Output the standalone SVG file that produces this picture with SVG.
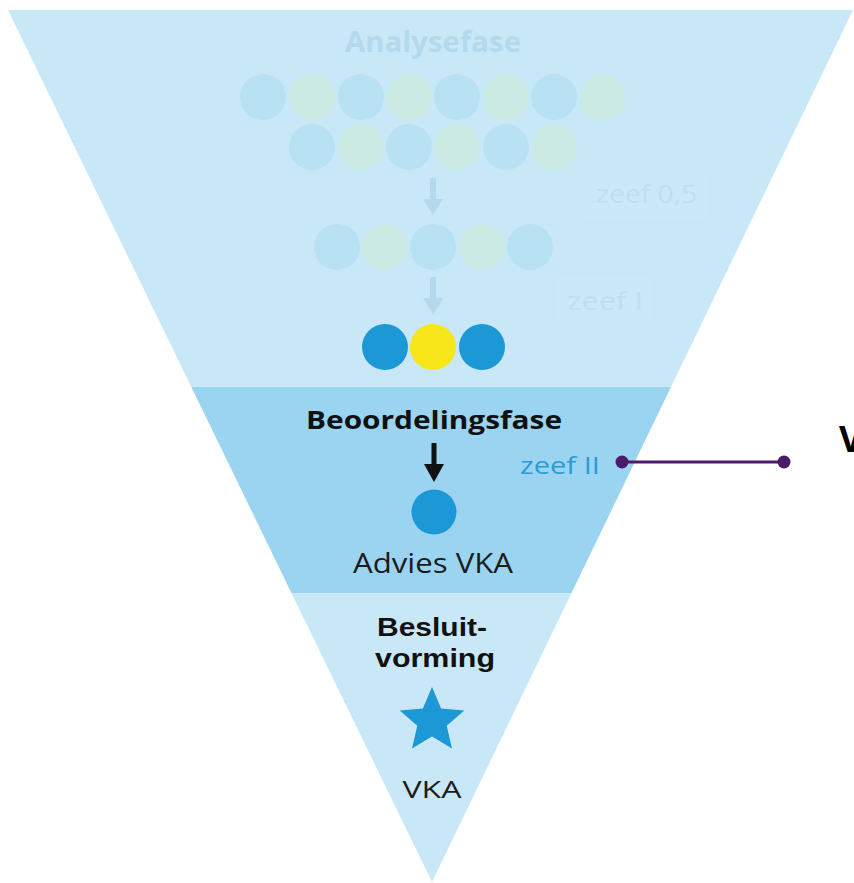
<svg xmlns="http://www.w3.org/2000/svg" width="854" height="883" viewBox="0 0 854 883">
  <style>
    .fb { fill: #b9e1f4; }
    .fg { fill: #cbeae4; }
    .fade { fill: #b4d9ec; font-family: "Open Sans", "Noto Sans", sans-serif; }
    .faint { fill: #bddff1; font-family: "Open Sans", "Noto Sans", sans-serif; }
    .lbl { font-family: "Open Sans", "Noto Sans", sans-serif; fill: #1c1c1c; }
    .bold { font-weight: bold; fill: #111; }
    .blue { fill: #1b98d5; }
  </style>
  <defs>
    <clipPath id="funnel">
      <polygon points="8,10 853,10 432,882"/>
    </clipPath>
  </defs>
  <rect width="854" height="883" fill="#ffffff"/>
  <g id="funnel-shape" clip-path="url(#funnel)">
    <rect x="0" y="0" width="854" height="387" fill="#c8e8f8"/>
    <rect x="0" y="387" width="854" height="206" fill="#9ad4f1"/>
    <rect x="0" y="593" width="854" height="290" fill="#c8e8f8"/>
  </g>

  <g id="analysefase">
    <text class="fade" x="433" y="52" font-size="29" font-weight="bold" text-anchor="middle" textLength="176" lengthAdjust="spacingAndGlyphs">Analysefase</text>
    <circle class="fb" cx="263" cy="97" r="23"/>
    <circle class="fg" cx="312" cy="97" r="23"/>
    <circle class="fb" cx="361" cy="97" r="23"/>
    <circle class="fg" cx="409" cy="97" r="23"/>
    <circle class="fb" cx="457" cy="97" r="23"/>
    <circle class="fg" cx="506" cy="97" r="23"/>
    <circle class="fb" cx="554" cy="97" r="23"/>
    <circle class="fg" cx="603" cy="97" r="23"/>
    <circle class="fb" cx="312" cy="147" r="23"/>
    <circle class="fg" cx="361" cy="147" r="23"/>
    <circle class="fb" cx="409" cy="147" r="23"/>
    <circle class="fg" cx="457" cy="147" r="23"/>
    <circle class="fb" cx="506" cy="147" r="23"/>
    <circle class="fg" cx="554" cy="147" r="23"/>
  </g>

  <g id="zeef05">
    <rect x="583" y="176" width="124" height="44" rx="4" fill="#ffffff" opacity="0.04"/>
    <text class="faint" x="596" y="203" font-size="25" textLength="101" lengthAdjust="spacingAndGlyphs">zeef 0,5</text>
  </g>

  <g id="row2">
    <circle class="fb" cx="337" cy="247" r="23"/>
    <circle class="fg" cx="385" cy="247" r="23"/>
    <circle class="fb" cx="433" cy="247" r="23"/>
    <circle class="fg" cx="482" cy="247" r="23"/>
    <circle class="fb" cx="530" cy="247" r="23"/>
  </g>

  <g id="zeef1">
    <rect x="557" y="276" width="96" height="44" rx="4" fill="#ffffff" opacity="0.04"/>
    <text class="faint" x="567" y="310" font-size="25" textLength="76" lengthAdjust="spacingAndGlyphs">zeef I</text>
  </g>

  <g id="row3">
    <circle class="blue" cx="385" cy="347" r="23"/>
    <circle cx="433" cy="347" r="23" fill="#f7e619"/>
    <circle class="blue" cx="482" cy="347" r="23"/>
  </g>

  <g id="beoordelingsfase">
    <text class="lbl bold" x="434" y="429" font-size="25" text-anchor="middle" textLength="256" lengthAdjust="spacingAndGlyphs">Beoordelingsfase</text>
  </g>

  <g id="zeef2">
    <text x="520" y="474" font-size="24" fill="#2a9bd6" font-family="Open Sans, Noto Sans, sans-serif" textLength="80" lengthAdjust="spacingAndGlyphs">zeef II</text>
  </g>

  <g id="advies-vka">
    <circle class="blue" cx="434" cy="512" r="22.5"/>
    <text class="lbl" x="433" y="573" font-size="27" text-anchor="middle" textLength="160" lengthAdjust="spacingAndGlyphs">Advies VKA</text>
  </g>

  <g id="besluitvorming">
    <text font-family="Liberation Sans, Arial, sans-serif" font-weight="bold" fill="#111" font-size="26" text-anchor="middle" x="432" y="636" textLength="110" lengthAdjust="spacingAndGlyphs">Besluit-</text>
    <text font-family="Liberation Sans, Arial, sans-serif" font-weight="bold" fill="#111" font-size="26" text-anchor="middle" x="435" y="667" textLength="120" lengthAdjust="spacingAndGlyphs">vorming</text>
  </g>

  <g id="vka">
    <polygon class="blue" points="432,687 441.1,708.5 464.3,710.5 446.7,725.8 452,748.5 432,736.5 412,748.5 417.3,725.8 399.7,710.5 422.9,708.5"/>
    <text class="lbl" x="432" y="798" font-size="24" text-anchor="middle" textLength="59" lengthAdjust="spacingAndGlyphs">VKA</text>
  </g>

  <g id="connectors">
    <path d="M433,178 V202" stroke="#b4d9ec" stroke-width="6" fill="none"/>
    <polygon points="423,199 443,199 433,215" fill="#b4d9ec"/>
    <path d="M433,277 V301" stroke="#b4d9ec" stroke-width="6" fill="none"/>
    <polygon points="423,298 443,298 433,315" fill="#b4d9ec"/>
    <path d="M434,443 V466" stroke="#111" stroke-width="5" fill="none"/>
    <polygon points="424,464 444,464 434,482" fill="#111"/>
    <line x1="622" y1="462" x2="784" y2="462" stroke="#4b1a68" stroke-width="3"/>
    <circle cx="622" cy="462" r="6.5" fill="#4b1a68"/>
    <circle cx="784" cy="462" r="6.5" fill="#4b1a68"/>
  </g>

  <g id="cut-label">
    <text x="839" y="452" font-size="36" font-weight="bold" fill="#000" font-family="Open Sans, Noto Sans, sans-serif">V</text>
  </g>
</svg>
